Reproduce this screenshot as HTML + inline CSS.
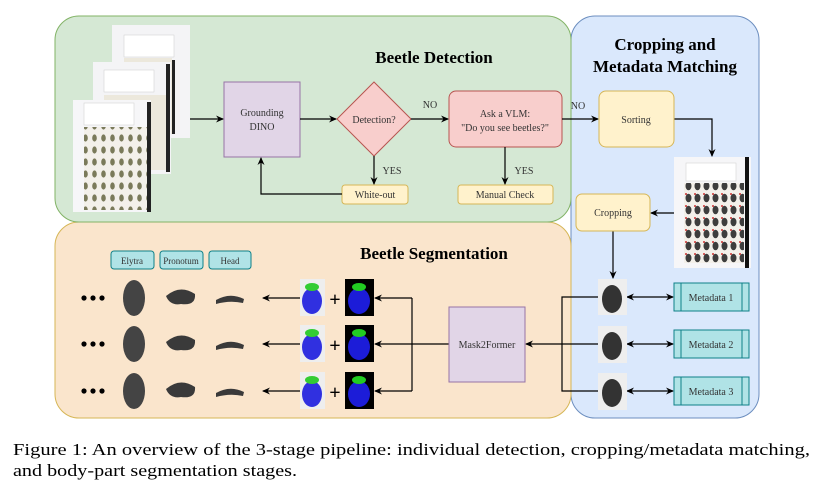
<!DOCTYPE html>
<html><head><meta charset="utf-8"><style>
html,body{margin:0;padding:0;background:#fff;width:819px;height:501px;overflow:hidden}
svg{display:block}
text{font-family:"Liberation Serif",serif}
</style></head><body>
<svg width="819" height="501" viewBox="0 0 819 501" xmlns="http://www.w3.org/2000/svg">
<defs>
<marker id="a" markerWidth="8" markerHeight="8" refX="7" refY="4" orient="auto" markerUnits="userSpaceOnUse"><path d="M0,0.5 L8,4 L0,7.5 L2.5,4 Z" fill="#000"/></marker>
<marker id="s" markerWidth="8" markerHeight="8" refX="1" refY="4" orient="auto" markerUnits="userSpaceOnUse"><path d="M8,0.5 L0,4 L8,7.5 L5.5,4 Z" fill="#000"/></marker>
<pattern id="tray" width="9" height="12" patternUnits="userSpaceOnUse"><rect width="9" height="12" fill="#f3f0ea"/><ellipse cx="4.5" cy="6" rx="2.3" ry="3.6" fill="#7a7a5a"/></pattern>
<pattern id="tray2" width="9" height="12" patternUnits="userSpaceOnUse"><rect width="9" height="12" fill="#f3f0ea"/><ellipse cx="4.5" cy="6" rx="3" ry="4.3" fill="#3d3d3d"/><circle cx="2" cy="2" r="1" fill="#c33"/></pattern>
</defs>
<rect x="571" y="16" width="188" height="402" rx="24" fill="#dae8fc" stroke="#6c8ebf"/>
<rect x="55" y="222" width="516" height="196" rx="24" fill="#fae5cc" stroke="#d6b656"/>
<rect x="55" y="16" width="516" height="206" rx="24" fill="#d5e8d4" stroke="#82b366"/>

<text x="434" y="63" font-size="17" font-weight="bold" text-anchor="middle">Beetle Detection</text>
<text x="434" y="259" font-size="17" font-weight="bold" text-anchor="middle">Beetle Segmentation</text>
<text x="665" y="50" font-size="17" font-weight="bold" text-anchor="middle">Cropping and</text>
<text x="665" y="72" font-size="17" font-weight="bold" text-anchor="middle">Metadata Matching</text>

<rect x="112" y="25" width="78" height="113" fill="#f4f4f6"/>
<rect x="124" y="35" width="50" height="22" fill="#fff" stroke="#ccc" stroke-width="0.5"/>
<rect x="124" y="58" width="48" height="76" fill="#ece8dc"/>
<rect x="172" y="60" width="3" height="74" fill="#222"/>
<rect x="93" y="62" width="78" height="112" fill="#f4f4f6"/>
<rect x="104" y="70" width="50" height="22" fill="#fff" stroke="#ccc" stroke-width="0.5"/>
<rect x="104" y="95" width="62" height="75" fill="#ece8dc"/>
<rect x="166" y="64" width="4" height="108" fill="#222"/>
<rect x="73" y="100" width="78" height="112" fill="#f6f6f8"/>
<rect x="84" y="103" width="50" height="22" fill="#fff" stroke="#ccc" stroke-width="0.5"/>
<rect x="84" y="127" width="63" height="83" fill="url(#tray)"/>
<rect x="147" y="102" width="4" height="110" fill="#222"/>

<rect x="224" y="82" width="76" height="75" fill="#e1d5e7" stroke="#9673a6"/>
<text x="262" y="116" font-size="10" text-anchor="middle" fill="#333">Grounding</text>
<text x="262" y="130" font-size="10" text-anchor="middle" fill="#333">DINO</text>
<path d="M374,82 L411,119 L374,156 L337,119 Z" fill="#f8cecc" stroke="#b85450"/>
<text x="374" y="123" font-size="10" text-anchor="middle" fill="#333">Detection?</text>
<rect x="449" y="91" width="113" height="56" rx="7" fill="#f8cecc" stroke="#b85450"/>
<text x="505" y="117" font-size="10" text-anchor="middle" fill="#333">Ask a VLM:</text>
<text x="505" y="131" font-size="10" text-anchor="middle" fill="#333">"Do you see beetles?"</text>
<rect x="342" y="185" width="66" height="19" rx="3" fill="#fff2cc" stroke="#d6b656"/>
<text x="375" y="198" font-size="10" text-anchor="middle" fill="#333">White-out</text>
<rect x="458" y="185" width="95" height="19" rx="3" fill="#fff2cc" stroke="#d6b656"/>
<text x="505" y="198" font-size="10" text-anchor="middle" fill="#333">Manual Check</text>
<text x="430" y="108" font-size="10" text-anchor="middle" fill="#333">NO</text>
<text x="392" y="174" font-size="10" text-anchor="middle" fill="#333">YES</text>
<text x="524" y="174" font-size="10" text-anchor="middle" fill="#333">YES</text>
<text x="578" y="109" font-size="10" text-anchor="middle" fill="#333">NO</text>

<g stroke="#000" stroke-width="1.2" fill="none">
<path d="M190,119 H223" marker-end="url(#a)"/>
<path d="M300,119 H336" marker-end="url(#a)"/>
<path d="M411,119 H448" marker-end="url(#a)"/>
<path d="M374,156 V184" marker-end="url(#a)"/>
<path d="M342,194 H261 V158" marker-end="url(#a)"/>
<path d="M505,147 V184" marker-end="url(#a)"/>
<path d="M562,119 H598" marker-end="url(#a)"/>
<path d="M674,119 H712 V156" marker-end="url(#a)"/>
<path d="M674,213 H651" marker-end="url(#a)"/>
<path d="M613,231 V278" marker-end="url(#a)"/>
<path d="M627,297 H673" marker-start="url(#s)" marker-end="url(#a)"/>
<path d="M627,344 H673" marker-start="url(#s)" marker-end="url(#a)"/>
<path d="M627,391 H673" marker-start="url(#s)" marker-end="url(#a)"/>
<path d="M598,297 H562 V391 H598"/>
<path d="M598,344 H526" marker-end="url(#a)"/>
<path d="M449,344 H375" marker-end="url(#a)"/>
<path d="M412,298 V391"/>
<path d="M412,298 H375" marker-end="url(#a)"/>
<path d="M412,391 H375" marker-end="url(#a)"/>
<path d="M300,298 H263" marker-end="url(#a)"/>
<path d="M300,344 H263" marker-end="url(#a)"/>
<path d="M300,391 H263" marker-end="url(#a)"/>
</g>

<rect x="599" y="91" width="75" height="56" rx="7" fill="#fff2cc" stroke="#d6b656"/>
<text x="636" y="123" font-size="10" text-anchor="middle" fill="#333">Sorting</text>
<rect x="674" y="157" width="77" height="111" fill="#f6f6f8"/>
<rect x="686" y="163" width="50" height="18" fill="#fff" stroke="#ccc" stroke-width="0.5"/>
<rect x="684" y="183" width="60" height="80" fill="url(#tray2)"/>
<rect x="745" y="157" width="4" height="111" fill="#111"/>
<rect x="576" y="194" width="74" height="37" rx="6" fill="#fff2cc" stroke="#d6b656"/>
<text x="613" y="216" font-size="10" text-anchor="middle" fill="#333">Cropping</text>
<g>
<rect x="598" y="279" width="29" height="36" fill="#eee"/><ellipse cx="612" cy="299" rx="10" ry="14" fill="#333"/>
<rect x="598" y="326" width="29" height="37" fill="#eee"/><ellipse cx="612" cy="346" rx="10" ry="14" fill="#333"/>
<rect x="598" y="373" width="29" height="37" fill="#eee"/><ellipse cx="612" cy="393" rx="10" ry="14" fill="#333"/>
</g>
<g fill="#b0e3e6" stroke="#0e8088">
<rect x="674" y="283" width="75" height="28"/><rect x="674" y="330" width="75" height="28"/><rect x="674" y="377" width="75" height="28"/>
<path d="M681,283V311M742,283V311M681,330V358M742,330V358M681,377V405M742,377V405" fill="none"/>
</g>
<text x="711" y="301" font-size="10" text-anchor="middle" fill="#333">Metadata 1</text>
<text x="711" y="348" font-size="10" text-anchor="middle" fill="#333">Metadata 2</text>
<text x="711" y="395" font-size="10" text-anchor="middle" fill="#333">Metadata 3</text>

<rect x="449" y="307" width="76" height="75" fill="#e1d5e7" stroke="#9673a6"/>
<text x="487" y="348" font-size="10" text-anchor="middle" fill="#333">Mask2Former</text>
<g fill="#b0e3e6" stroke="#0e8088">
<rect x="111" y="251" width="43" height="18" rx="3"/><rect x="160" y="251" width="43" height="18" rx="3"/><rect x="209" y="251" width="42" height="18" rx="3"/>
</g>
<text x="132" y="264" font-size="9" text-anchor="middle" fill="#333">Elytra</text>
<text x="181" y="264" font-size="9" text-anchor="middle" fill="#333">Pronotum</text>
<text x="230" y="264" font-size="9" text-anchor="middle" fill="#333">Head</text>
<g id="row">
<circle cx="84" cy="298" r="2.6"/><circle cx="93" cy="298" r="2.6"/><circle cx="102" cy="298" r="2.6"/>
<ellipse cx="134" cy="298" rx="11" ry="18" fill="#444"/>
<path d="M166,296 Q180,284 195,294 Q196,306 181,304 Q170,306 166,296 Z" fill="#3a3a3a"/>
<path d="M216,300 Q230,292 244,299 L243,303 Q230,300 216,304 Z" fill="#3a3a3a"/>
<rect x="300" y="279" width="25" height="37" fill="#eee"/>
<ellipse cx="312" cy="301" rx="10" ry="13" fill="#3030e0"/><ellipse cx="312" cy="287" rx="7" ry="4" fill="#3c3"/>
<rect x="345" y="279" width="29" height="37" fill="#000"/>
<ellipse cx="359" cy="301" rx="11" ry="13" fill="#1c1cd8"/><ellipse cx="359" cy="287" rx="7" ry="4" fill="#2c2"/>
<text x="335" y="306" font-size="20" font-weight="bold" text-anchor="middle" font-family="Liberation Sans">+</text>
</g>
<use href="#row" y="46"/>
<use href="#row" y="93"/>

<text x="13" y="455" font-size="17" textLength="797" lengthAdjust="spacingAndGlyphs">Figure 1: An overview of the 3-stage pipeline: individual detection, cropping/metadata matching,</text>
<text x="13" y="476" font-size="17" textLength="284" lengthAdjust="spacingAndGlyphs">and body-part segmentation stages.</text>
</svg>
</body></html>
